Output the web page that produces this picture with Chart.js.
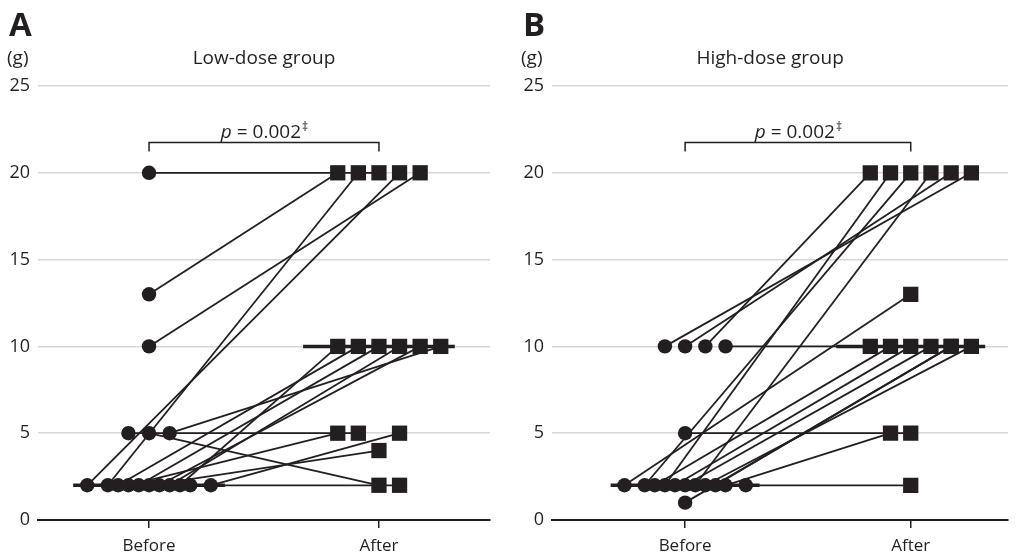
<!DOCTYPE html>
<html lang="en">
<head>
<meta charset="UTF-8">
<title>Low-dose / High-dose: Before vs After</title>
<script src="https://cdn.jsdelivr.net/npm/chart.js"></script>
<style>
  body { margin: 0; background: #fff; }
  .panel { position: absolute; top: 0; }
  #panelA { left: 0; }
  #panelB { left: 509px; }
</style>
</head>
<body>
<div class="panel" id="panelA"><canvas id="chartA" width="509" height="559"></canvas></div>
<div class="panel" id="panelB"><canvas id="chartB" width="510" height="559"></canvas></div>
<script>
// ---- data (g) ----
const timepoints = ['Before', 'After'];

// low-dose group, paired by index (slot = horizontal dodge position of the marker)
const lowBefore     = [20, 13, 10, 5, 5, 5, 2, 2, 2, 2, 2, 2, 2, 2, 2, 2, 2];
const lowBeforeSlot = [0, 0, 0, -2, 0, 2, -6, -4, -3, -2, -1, 0, 1, 2, 3, 4, 6];
const lowAfter      = [20, 20, 20, 5, 2, 10, 20, 20, 10, 5, 10, 4, 10, 10, 10, 2, 5];
const lowAfterSlot  = [0, -4, 4, -2, 0, 6, 2, -2, -2, -4, 0, 0, 4, 2, -4, 2, 2];
const lowMedian     = [2, 10];

// high-dose group
const highBefore     = [10, 10, 10, 10, 5, 1, 2, 2, 2, 2, 2, 2, 2, 2, 2, 2, 2];
const highBeforeSlot = [-2, 0, 2, 4, 0, 0, -6, -4, -3, -2, -1, 0, 1, 2, 3, 4, 6];
const highAfter      = [20, 20, 20, 10, 5, 10, 13, 20, 10, 20, 10, 10, 20, 10, 10, 5, 2];
const highAfterSlot  = [6, 4, -4, -4, 0, 4, 0, 0, -2, -2, 0, 2, 2, 6, 4, -2, 0];
const highMedian     = [2, 10];

const pText = 'p';
const pValue = ' = 0.002';
const pMark = '‡';

// ---- styling ----
const INK = '#231f20';
const FONT = '"Open Sans", "Noto Sans", sans-serif';
const STEP = 0.0448;      // one dodge slot in x units
const MED_HALF = 0.33;    // half width of median bar

function buildDatasets(before, bSlot, after, aSlot, median) {
  const ds = [];
  for (let i = 0; i < before.length; i++) {
    ds.push({
      data: [{ x: 1 + bSlot[i] * STEP, y: before[i] }, { x: 2 + aSlot[i] * STEP, y: after[i] }],
      showLine: true, borderColor: INK, borderWidth: 1.8, pointRadius: 0, order: 3
    });
  }
  median.forEach((m, k) => {
    ds.push({
      data: [{ x: k + 1 - MED_HALF, y: m }, { x: k + 1 + MED_HALF, y: m }],
      showLine: true, borderColor: INK, borderWidth: 3.5, pointRadius: 0, order: 2
    });
  });
  ds.push({
    data: before.map((v, i) => ({ x: 1 + bSlot[i] * STEP, y: v })),
    pointStyle: 'circle', pointRadius: 7.2, pointHoverRadius: 7.2,
    backgroundColor: INK, borderWidth: 0, order: 1
  });
  ds.push({
    data: after.map((v, i) => ({ x: 2 + aSlot[i] * STEP, y: v })),
    pointStyle: 'rect', pointRadius: 10.8, pointHoverRadius: 10.8,
    backgroundColor: INK, borderWidth: 0, order: 1
  });
  return ds;
}

const panelText = {
  id: 'panelText',
  afterDraw(chart, args, opts) {
    const { ctx, chartArea, scales } = chart;
    ctx.save();
    ctx.fillStyle = INK;
    ctx.textBaseline = 'alphabetic';
    ctx.textAlign = 'left';
    ctx.font = `bold 33px ${FONT}`;
    ctx.fillText(opts.letter, chartArea.left - 29, 36);
    ctx.font = `19px ${FONT}`;
    ctx.fillText('(g)', chartArea.left - 31, 64);
    ctx.textAlign = 'center';
    ctx.fillText(opts.title, (chartArea.left + chartArea.right) / 2 + opts.titleShift, 64);

    // significance bracket
    const x1 = scales.x.getPixelForValue(1);
    const x2 = scales.x.getPixelForValue(2);
    const yb = scales.y.getPixelForValue(21.75);
    const ye = scales.y.getPixelForValue(21.22);
    ctx.strokeStyle = INK;
    ctx.lineWidth = 1.5;
    ctx.beginPath();
    ctx.moveTo(x1, ye); ctx.lineTo(x1, yb); ctx.lineTo(x2, yb); ctx.lineTo(x2, ye);
    ctx.stroke();

    // p = 0.002‡
    ctx.textAlign = 'left';
    ctx.font = `italic 19px ${FONT}`;
    const w1 = ctx.measureText(pText).width;
    ctx.font = `19px ${FONT}`;
    const w2 = ctx.measureText(pValue).width;
    ctx.font = `12px ${FONT}`;
    const w3 = ctx.measureText(pMark).width;
    let x = (x1 + x2) / 2 - (w1 + w2 + w3) / 2;
    const yt = scales.y.getPixelForValue(22.03);
    ctx.font = `italic 19px ${FONT}`;
    ctx.fillText(pText, x, yt); x += w1;
    ctx.font = `19px ${FONT}`;
    ctx.fillText(pValue, x, yt); x += w2;
    ctx.font = `12px ${FONT}`;
    ctx.fillText(pMark, x + 1, yt - 7);
    ctx.restore();
  }
};

function makeChart(id, datasets, opt) {
  return new Chart(document.getElementById(id), {
    type: 'scatter',
    data: { datasets },
    options: {
      responsive: false,
      animation: false,
      layout: { padding: { top: 86, right: opt.rightPad, left: 0, bottom: 0 } },
      plugins: {
        legend: { display: false },
        tooltip: { enabled: false },
        panelText: { letter: opt.letter, title: opt.title, titleShift: opt.titleShift }
      },
      scales: {
        x: {
          type: 'linear', min: opt.xMin, max: opt.xMax,
          afterBuildTicks: s => { s.ticks = [{ value: 1 }, { value: 2 }]; },
          afterFit: s => { s.height = 39; },
          ticks: {
            callback: v => timepoints[v - 1],
            color: INK, font: { family: FONT, size: 17 }, padding: 8,
            autoSkip: false, maxRotation: 0
          },
          grid: { drawOnChartArea: false, drawTicks: true, tickLength: 8, color: INK, lineWidth: 1.5 },
          border: { display: true, color: INK, width: 2 }
        },
        y: {
          min: 0, max: 25,
          afterFit: s => { s.width = opt.yWidth; },
          ticks: { stepSize: 5, color: INK, font: { family: FONT, size: 18 }, padding: 8 },
          grid: {
            color: c => (c.tick && c.tick.value === 0) ? 'rgba(0,0,0,0)' : '#d7d7d7',
            lineWidth: 1.5, drawTicks: false
          },
          border: { display: false }
        }
      }
    },
    plugins: [panelText]
  });
}

makeChart('chartA',
  buildDatasets(lowBefore, lowBeforeSlot, lowAfter, lowAfterSlot, lowMedian),
  { letter: 'A', title: 'Low-dose group', titleShift: 0, xMin: 0.517, xMax: 2.483, yWidth: 38, rightPad: 19 });

makeChart('chartB',
  buildDatasets(highBefore, highBeforeSlot, highAfter, highAfterSlot, highMedian),
  { letter: 'B', title: 'High-dose group', titleShift: -10, xMin: 0.41, xMax: 2.432, yWidth: 43, rightPad: 4 });
</script>
</body>
</html>
